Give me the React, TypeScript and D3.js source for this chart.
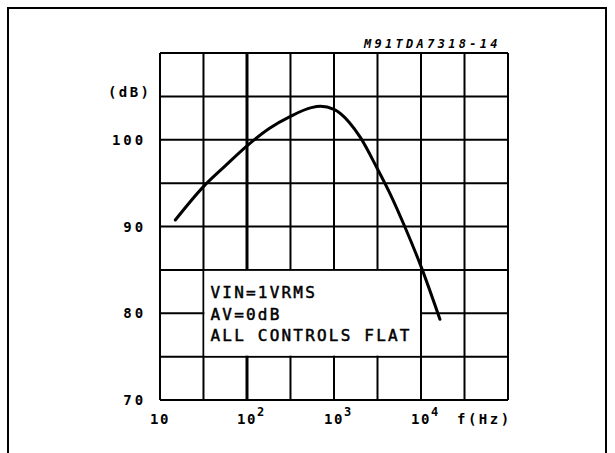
import React from 'react';
import * as d3 from 'd3';

// response curve
const freqHz = [15, 31.6, 55, 100, 180, 316, 550, 700, 1000, 1500, 2000, 3100, 4500, 6500, 10000, 16500];
const levelDb = [90.75, 94.6, 96.9, 99.3, 101.3, 102.7, 103.7, 103.85, 103.5, 102.0, 100.3, 96.8, 93.6, 90.0, 85.4, 79.3];

const gridFreqs = [10, 31.6, 100, 316, 1000, 3162, 10000, 31623, 100000];
const gridDb = [70, 75, 80, 85, 90, 95, 100, 105, 110];
const yTickDb = [70, 80, 90, 100];
const xTickFreqs = [10, 100, 1000, 10000];
const xTickExp = ['', '2', '3', '4'];
const legendLines = ['VIN=1VRMS', 'AV=0dB', 'ALL CONTROLS FLAT'];
const chartCode = 'M91TDA7318-14';

const W = 615;
const H = 453;
const x = d3.scaleLog().domain([10, 100000]).range([160, 508]);
const y = d3.scaleLinear().domain([70, 110]).range([400, 53]);

const mono = '"DejaVu Sans Mono", "Liberation Mono", monospace';

export default function App() {
  const pts = freqHz.map((f, i) => [f, levelDb[i]] as [number, number]);
  const line = d3
    .line<[number, number]>()
    .x((d) => x(d[0]))
    .y((d) => y(d[1]))
    .curve(d3.curveMonotoneX);

  // legend box covers grid from 10^1.5 to 10^4 and 75..85 dB
  const bx0 = x(31.6);
  const bx1 = x(10000);
  const by0 = y(85);
  const by1 = y(75);

  return (
    <svg
      width={W}
      height={H}
      style={{ position: 'absolute', left: 0, top: 0, background: '#fff' }}
    >
      <rect x={0} y={0} width={W} height={H} fill="#fff" />
      <path d={`M8,${H + 5} V8 H606 V${H + 5}`} fill="none" stroke="#000" strokeWidth={2} />

      <text
        x={364}
        y={48}
        fontFamily={mono}
        fontSize={12}
        fontWeight="bold"
        fontStyle="italic"
        letterSpacing={3.3}
      >
        {chartCode}
      </text>

      {gridFreqs.map((f) => (
        <line
          key={'v' + f}
          x1={x(f)}
          x2={x(f)}
          y1={y(110)}
          y2={y(70)}
          stroke="#000"
          strokeWidth={f === 100 ? 3 : 2}
        />
      ))}
      {gridDb.map((d) => (
        <line key={'h' + d} x1={x(10)} x2={x(100000)} y1={y(d)} y2={y(d)} stroke="#000" strokeWidth={2} />
      ))}

      {/* legend box hides grid inside */}
      <rect x={bx0 + 1} y={by0 + 1} width={bx1 - bx0 - 2} height={by1 - by0 - 2} fill="#fff" />
      {legendLines.map((t, i) => (
        <text
          key={t}
          x={bx0 + 7}
          y={by0 + 28 + i * 21.7}
          fontFamily={mono}
          fontSize={16}
          letterSpacing={2.2}
          stroke="#000"
          strokeWidth={0.5}
        >
          {t}
        </text>
      ))}

      <path d={line(pts) || ''} fill="none" stroke="#000" strokeWidth={3} strokeLinecap="round" />

      {yTickDb.map((d) => (
        <text
          key={'yl' + d}
          x={112 + (3 - String(d).length) * 11.3}
          y={y(d) + 5}
          fontFamily={mono}
          fontSize={14}
          fontWeight="bold"
          letterSpacing={2.9}
        >
          {d}
        </text>
      ))}
      <text x={108} y={y(105) + 1} fontFamily={mono} fontSize={14} fontWeight="bold" letterSpacing={2.4}>
        (dB)
      </text>

      {xTickFreqs.map((f, i) => (
        <g key={'xl' + f}>
          <text x={x(f) - 10} y={424} fontFamily={mono} fontSize={14} fontWeight="bold" letterSpacing={1.5}>
            10
          </text>
          {xTickExp[i] && (
            <text x={x(f) + 10} y={416} fontFamily={mono} fontSize={12} fontWeight="bold">
              {xTickExp[i]}
            </text>
          )}
        </g>
      ))}
      <text x={457} y={424} fontFamily={mono} fontSize={14} fontWeight="bold" letterSpacing={2.5}>
        f(Hz)
      </text>
    </svg>
  );
}
